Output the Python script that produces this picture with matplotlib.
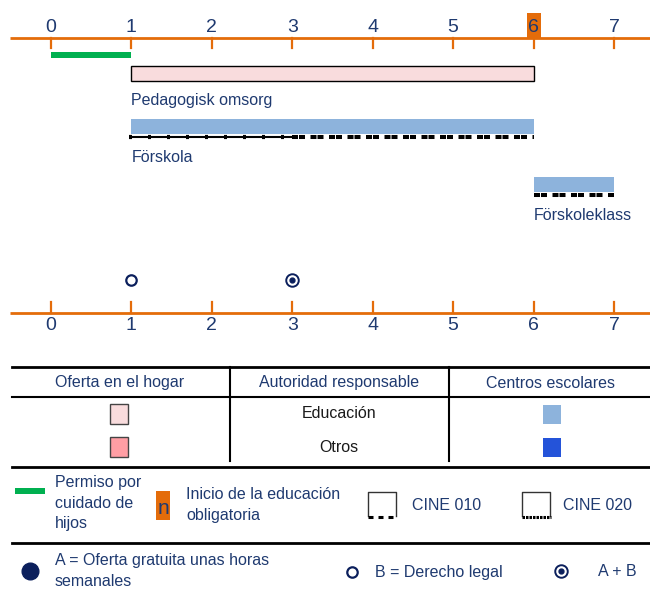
import matplotlib
matplotlib.use("Agg")
import matplotlib.pyplot as plt
from matplotlib.patches import Rectangle

# ---------------- data ----------------
ages = [0, 1, 2, 3, 4, 5, 6, 7]
compulsory_age = 6
leave_start, leave_end = 0, 1
home_label = "Pedagogisk omsorg"
home_start, home_end = 1, 6
centre_labels = ["Förskola", "Förskoleklass"]
centre_starts = [1, 6]
centre_ends = [6, 7]
isced010_spans = [(1, 3)]
isced020_spans = [(3, 6), (6, 7)]
legal_right_age = [1]      # B
both_age = [3]             # A + B
header_labels = ["Oferta en el hogar", "Autoridad responsable", "Centros escolares"]
authority_labels = ["Educación", "Otros"]

# ---------------- style ----------------
ORANGE = "#E46C0A"
NAVY = "#1F3A70"
DOT = "#0B1F5C"
PINK_L = "#F9DCDD"
PINK_D = "#FF9EA4"
BLUE_L = "#8DB3DC"
BLUE_D = "#2453D9"
GREEN = "#00B050"
FONT = ["Liberation Sans Narrow", "Liberation Sans", "DejaVu Sans"]
plt.rcParams["font.family"] = FONT
plt.rcParams["lines.scale_dashes"] = False
PT = 0.72  # points per pixel at dpi 100
FS = 11.5
LS = 1.42

W, H = 650, 591
fig = plt.figure(figsize=(W / 100, H / 100), dpi=100)
lay = fig.add_axes([0, 0, 1, 1])
lay.set_xlim(0, W)
lay.set_ylim(H, 0)
lay.axis("off")

X0, DX = 51.0, (614.0 - 51.0) / 7.0
ax = fig.add_axes([0, 0, 1, 1])
ax.set_xlim((0 - X0) / DX, (W - X0) / DX)
ax.set_ylim(H, 0)
ax.axis("off")
ax.patch.set_alpha(0)

# ---------- top age axis ----------
ax.plot([ax.get_xlim()[0] + 10 / DX, ax.get_xlim()[1]], [38, 38], color=ORANGE, lw=2, solid_capstyle="butt")
for a in ages:
    ax.plot([a, a], [38, 48], color=ORANGE, lw=1.6)
    if a == compulsory_age:
        ax.add_patch(Rectangle((a - 7 / DX, 13), 14 / DX, 25, color=ORANGE, lw=0))
    ax.text(a, 27, str(a), ha="center", va="center", fontsize=14, color=NAVY)

# parental leave
ax.add_patch(Rectangle((leave_start, 52), leave_end - leave_start, 6, color=GREEN, lw=0))
# home-based provision
ax.add_patch(Rectangle((home_start, 66), home_end - home_start, 15, facecolor=PINK_L, edgecolor="black", lw=1))
ax.text(home_start, 100, home_label, ha="left", va="center", fontsize=FS, color=NAVY)

# centre-based
bar_tops = [119, 177]
label_y = [157, 215]
for s, e, t, lbl, ly in zip(centre_starts, centre_ends, bar_tops, centre_labels, label_y):
    ax.add_patch(Rectangle((s, t), e - s, 15, color=BLUE_L, lw=0))
    ax.text(s, ly, lbl, ha="left", va="center", fontsize=FS, color=NAVY)

# ISCED 010 lines: thin line with small blocks
for s, e in isced010_spans:
    ax.plot([s - 0.03, e], [136.5, 136.5], color="black", lw=1.5, solid_capstyle="butt")
    ax.plot([s - 0.03, e], [136.5, 136.5], color="black", lw=3.0,
            dashes=(3 * PT, 16 * PT), dash_capstyle="butt")
# ISCED 020 lines: thick paired dashes
line_y020 = [136.5, 194.5]
for (s, e), yy in zip(isced020_spans, line_y020):
    ax.plot([s, e], [yy, yy], color="black", lw=2.9,
            dashes=(6 * PT, 1 * PT, 6 * PT, 5.5 * PT), dash_capstyle="butt")

# ---------- bottom age axis ----------
ax.plot([ax.get_xlim()[0] + 10 / DX, ax.get_xlim()[1]], [313, 313], color=ORANGE, lw=2, solid_capstyle="butt")
for a in ages:
    ax.plot([a, a], [302, 313], color=ORANGE, lw=1.6)
    ax.text(a, 325, str(a), ha="center", va="center", fontsize=14, color=NAVY)
for a in legal_right_age:
    ax.plot(a, 280, "o", ms=7.5, mfc="white", mec=DOT, mew=1.6)
for a in both_age:
    ax.plot(a, 280, "o", ms=9, mfc="white", mec=DOT, mew=1.4)
    ax.plot(a, 280, "o", ms=3.5, color=DOT)

# ---------- legend table ----------
lay.plot([12, 650], [367, 367], color="black", lw=2)
lay.plot([12, 650], [397, 397], color="black", lw=1.5)
lay.plot([12, 650], [467, 467], color="black", lw=2)
lay.plot([12, 650], [543, 543], color="black", lw=2)
for xv in (230, 449):
    lay.plot([xv, xv], [367, 461], color="black", lw=1.5)
for cx, lbl in zip([120, 339, 551], header_labels):
    lay.text(cx, 383, lbl, ha="center", va="center", fontsize=FS, color=NAVY)
for yy, lbl, pc, bc in zip([414, 447], authority_labels, [PINK_L, PINK_D], [BLUE_L, BLUE_D]):
    lay.text(339, yy, lbl, ha="center", va="center", fontsize=FS, color="#1a1a1a")
    lay.add_patch(Rectangle((110, yy - 10), 18, 20, facecolor=pc, edgecolor="#444444", lw=1))
    lay.add_patch(Rectangle((543, yy - 9), 18, 19, facecolor=bc, lw=0))

# legend row 1
lay.add_patch(Rectangle((15, 488), 30, 6, color=GREEN, lw=0))
lay.text(55, 503, "Permiso por\ncuidado de\nhijos", ha="left", va="center", fontsize=FS,
         color=NAVY, linespacing=LS)
lay.add_patch(Rectangle((156, 491), 14, 29, color=ORANGE, lw=0))
lay.text(163, 508, "n", ha="center", va="center", fontsize=15, color=NAVY)
lay.text(186, 505, "Inicio de la educación\nobligatoria", ha="left", va="center", fontsize=FS,
         color=NAVY, linespacing=LS)
for x0, dash, xt, lbl in [(368, (5 * PT, 5 * PT), 412, "CINE 010"),
                          (522, (2.5 * PT, 1 * PT), 563, "CINE 020")]:
    lay.plot([x0, x0, x0 + 28, x0 + 28], [516, 492, 492, 516], color="#333333", lw=1)
    lay.plot([x0, x0 + 29], [517, 517], color="black", lw=2.2, dashes=dash, dash_capstyle="butt")
    lay.text(xt, 505, lbl, ha="left", va="center", fontsize=FS, color=NAVY)

# legend row 2
lay.plot(30, 571, "o", ms=12, color=DOT)
lay.text(55, 571, "A = Oferta gratuita unas horas\nsemanales", ha="left", va="center", fontsize=FS,
         color=NAVY, linespacing=LS)
lay.plot(352, 572, "o", ms=7.5, mfc="white", mec=DOT, mew=1.6)
lay.text(375, 572, "B = Derecho legal", ha="left", va="center", fontsize=FS, color=NAVY)
lay.plot(561, 571, "o", ms=9, mfc="white", mec=DOT, mew=1.4)
lay.plot(561, 571, "o", ms=3.5, color=DOT)
lay.text(598, 572, "A + B", ha="left", va="center", fontsize=FS, color=NAVY)

fig.savefig("out.png", dpi=100)
